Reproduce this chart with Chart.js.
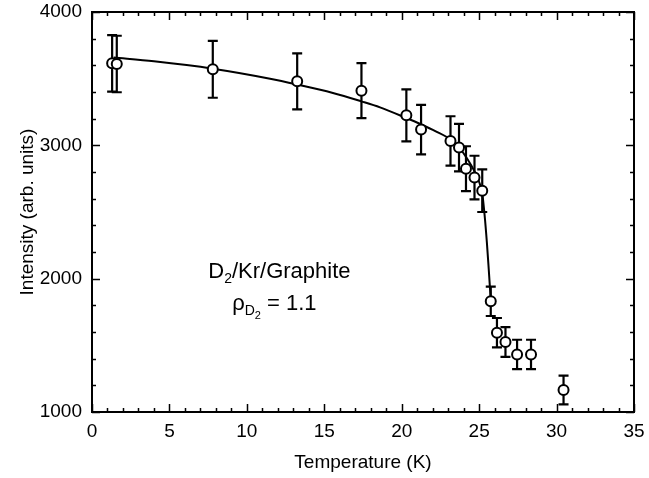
<!DOCTYPE html>
<html>
<head>
<meta charset="utf-8">
<script src="https://cdn.jsdelivr.net/npm/chart.js@4.4.1/dist/chart.umd.min.js"></script>
<style>
  html, body { margin: 0; padding: 0; background: #fff; }
  #wrap { width: 649px; height: 478px; position: relative; }
</style>
</head>
<body>
<div id="wrap"><canvas id="chart"></canvas></div>
<script>
// ===== measured points (T in K, intensity, error) =====
const temps = [1.3, 1.6, 7.8, 13.25, 17.4, 20.3, 21.25, 23.15, 23.7, 24.15, 24.7, 25.2, 25.75, 26.15, 26.7, 27.45, 28.35, 30.45];
const intensity = [3615, 3610, 3570, 3480, 3410, 3225, 3118, 3033, 2983, 2825, 2758, 2660, 1830, 1595, 1525, 1432, 1432, 1165];
const errors = [212, 212, 213, 210, 206, 195, 186, 185, 178, 168, 164, 160, 110, 110, 112, 110, 110, 108];

// ===== fitted curve =====
const fitTemps = [1.4, 4.0, 7.8, 11.5, 13.3, 15.5, 17.4, 18.6, 20.3, 21.2, 22.2, 23.2, 23.7, 24.2, 24.7, 25.0, 25.2, 25.35, 25.5, 25.62, 25.75];
const fitIntensity = [3658, 3630, 3575, 3500, 3455, 3395, 3330, 3285, 3205, 3160, 3105, 3040, 2985, 2905, 2805, 2725, 2640, 2480, 2270, 2070, 1840];

// ===== axes =====
const xMajor = [0, 5, 10, 15, 20, 25, 30, 35];
const yMajor = [1000, 2000, 3000, 4000];
const xMinorStep = 1;
const yMinorStep = 200;

const FONT = 'Liberation Sans, Arial, sans-serif';

// ---- error bars, under the markers ----
const errorBars = {
  id: 'errorBars',
  beforeDatasetsDraw(chart) {
    const { ctx, scales: { x, y } } = chart;
    ctx.save();
    ctx.strokeStyle = '#000';
    ctx.lineWidth = 2.2;
    temps.forEach((t, i) => {
      const px = x.getPixelForValue(t);
      const top = y.getPixelForValue(intensity[i] + errors[i]);
      const bot = y.getPixelForValue(intensity[i] - errors[i]);
      ctx.beginPath();
      ctx.moveTo(px, top); ctx.lineTo(px, bot);
      ctx.moveTo(px - 5, top); ctx.lineTo(px + 5, top);
      ctx.moveTo(px - 5, bot); ctx.lineTo(px + 5, bot);
      ctx.stroke();
    });
    ctx.restore();
  }
};

// ---- box frame with inward ticks on all sides ----
const frameTicks = {
  id: 'frameTicks',
  afterDatasetsDraw(chart) {
    const { ctx, chartArea: a, scales: { x, y } } = chart;
    ctx.save();
    ctx.strokeStyle = '#000';
    ctx.lineWidth = 1.5;
    ctx.beginPath();
    for (let t = xMajor[0]; t <= xMajor[xMajor.length - 1]; t += xMinorStep) {
      const px = Math.round(x.getPixelForValue(t)) + 0.5;
      const len = xMajor.includes(t) ? 8 : 4;
      ctx.moveTo(px, a.bottom); ctx.lineTo(px, a.bottom - len);
      ctx.moveTo(px, a.top); ctx.lineTo(px, a.top + len);
    }
    for (let v = yMajor[0]; v <= yMajor[yMajor.length - 1]; v += yMinorStep) {
      const py = Math.round(y.getPixelForValue(v)) + 0.5;
      const len = yMajor.includes(v) ? 8 : 4;
      ctx.moveTo(a.left, py); ctx.lineTo(a.left + len, py);
      ctx.moveTo(a.right, py); ctx.lineTo(a.right - len, py);
    }
    ctx.stroke();
    ctx.lineWidth = 2;
    ctx.strokeRect(a.left, a.top, a.right - a.left, a.bottom - a.top);
    ctx.restore();
  }
};

// ---- "D2/Kr/Graphite" and "rho_D2 = 1.1" ----
function drawRich(ctx, parts, cx, baseY) {
  let w = 0;
  parts.forEach(p => { ctx.font = p[1] + 'px ' + FONT; w += ctx.measureText(p[0]).width; });
  let xx = cx - w / 2;
  parts.forEach(p => {
    ctx.font = p[1] + 'px ' + FONT;
    ctx.fillText(p[0], xx, baseY + p[2]);
    xx += ctx.measureText(p[0]).width;
  });
}

const annotation = {
  id: 'annotation',
  afterDatasetsDraw(chart) {
    const { ctx, scales: { x, y } } = chart;
    ctx.save();
    ctx.fillStyle = '#000';
    ctx.textBaseline = 'alphabetic';
    const cx = x.getPixelForValue(12.1);
    drawRich(ctx, [['D', 22, 0], ['2', 14, 5], ['/Kr/Graphite', 22, 0]], cx, y.getPixelForValue(2003));
    drawRich(ctx, [['\u03c1', 22, 0], ['D', 14, 5], ['2', 11, 9], [' = 1.1', 22, 0]], cx - 5, y.getPixelForValue(1763));
    ctx.restore();
  }
};

new Chart(document.getElementById('chart'), {
  type: 'scatter',
  data: {
    datasets: [
      {
        label: 'data',
        data: temps.map((t, i) => ({ x: t, y: intensity[i] })),
        pointStyle: 'circle',
        pointRadius: 5,
        pointBackgroundColor: '#fff',
        pointBorderColor: '#000',
        pointBorderWidth: 2,
        showLine: false
      },
      {
        label: 'fit',
        type: 'line',
        data: fitTemps.map((t, i) => ({ x: t, y: fitIntensity[i] })),
        borderColor: '#000',
        borderWidth: 2,
        pointRadius: 0,
        cubicInterpolationMode: 'monotone',
        fill: false
      }
    ]
  },
  options: {
    responsive: true,
    maintainAspectRatio: false,
    animation: false,
    layout: { padding: { top: 12, right: 15, left: 16, bottom: 0 } },
    plugins: { legend: { display: false }, tooltip: { enabled: false } },
    scales: {
      x: {
        type: 'linear', min: 0, max: 35,
        grid: { display: false, drawTicks: false },
        border: { display: false },
        ticks: { stepSize: 5, color: '#000', font: { family: FONT, size: 19 }, padding: 8, maxRotation: 0, callback: v => String(v) },
        title: { display: true, text: 'Temperature (K)', color: '#000', font: { family: FONT, size: 19 }, padding: { top: 0, bottom: 4 } },
        afterFit(s) { s.height = 66; s.paddingLeft = 0; s.paddingRight = 0; }
      },
      y: {
        type: 'linear', min: 1000, max: 4000,
        grid: { display: false, drawTicks: false },
        border: { display: false },
        ticks: { stepSize: 1000, color: '#000', font: { family: FONT, size: 19 }, padding: 10, callback: v => String(v) },
        title: { display: true, text: 'Intensity (arb. units)', color: '#000', font: { family: FONT, size: 19 }, padding: 0 },
        afterFit(s) { s.width = 76; s.paddingTop = 0; s.paddingBottom = 0; }
      }
    }
  },
  plugins: [errorBars, frameTicks, annotation]
});
</script>
</body>
</html>
